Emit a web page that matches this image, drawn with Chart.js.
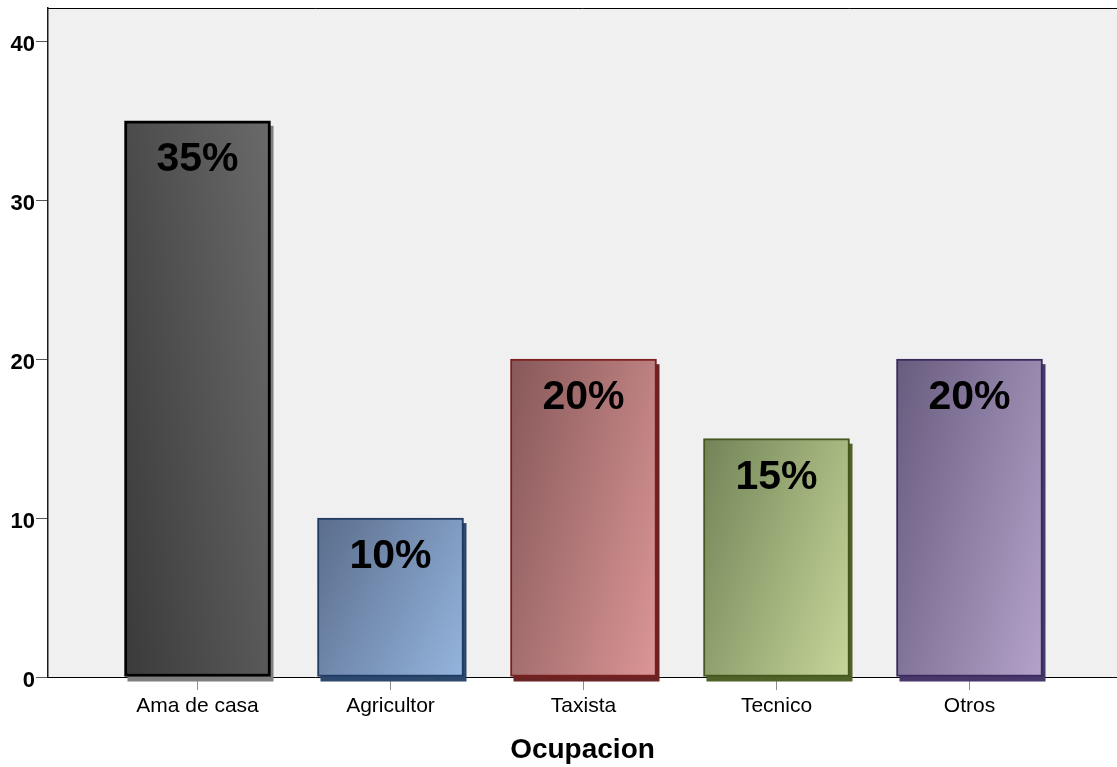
<!DOCTYPE html>
<html>
<head>
<meta charset="utf-8">
<title>Ocupacion</title>
<script src="https://cdn.jsdelivr.net/npm/chart.js@4.4.1/dist/chart.umd.min.js"></script>
<style>
  html, body { margin: 0; padding: 0; background: #ffffff; }
  canvas { display: block; }
</style>
</head>
<body>
<canvas id="chart" width="1117" height="767"></canvas>
<script>
// Occupation counts (each shown as a percentage label on its bar)
const categories = ['Ama de casa', 'Agricultor', 'Taxista', 'Tecnico', 'Otros'];
const values = [35, 10, 20, 15, 20];
const yTicks = [0, 10, 20, 30, 40];
const axisTitle = 'Ocupacion';

// Bar styling: gradient ends, outline and drop-shadow colour per bar
const darkShades   = ['#3a3a3a', '#5a6d8c', '#865859', '#728457', '#685c7e'];
const lightShades  = ['#6a6a6a', '#95b5de', '#dc9696', '#c6d69a', '#b4a2ca'];
const borderColors = ['#000000', '#1f3b63', '#7a1f1f', '#46561f', '#3a2a5c'];
const shadowColors = ['#7f7f7f', '#2d486d', '#6b2323', '#4f6228', '#47376b'];
const shadeUpward  = [true, false, false, false, false];

const FONT = '"Liberation Sans", Arial, Helvetica, sans-serif';
const BAR_W = 146;

// Mostly horizontal gradient with a small vertical component
function barGradient(context) {
  const chart = context.chart;
  const i = context.dataIndex;
  if (context.type !== 'data' || !chart.chartArea) return darkShades[i];
  const xs = chart.scales.x, ys = chart.scales.y;
  const cx = xs.getPixelForValue(i);
  const top = ys.getPixelForValue(values[i]);
  const bottom = ys.getPixelForValue(0);
  const w = BAR_W, h = Math.max(1, bottom - top);
  const r = (0.35 * w) / (0.65 * h);
  const a = w / (0.65 * (1 + r * r));
  const b = r * a;
  const left = cx - w / 2;
  const g = shadeUpward[i]
    ? chart.ctx.createLinearGradient(left, bottom, left + a, bottom - b)
    : chart.ctx.createLinearGradient(left, top, left + a, top + b);
  g.addColorStop(0, darkShades[i]);
  g.addColorStop(1, lightShades[i]);
  return g;
}

// White page, light grey plotting area
const plotBackground = {
  id: 'plotBackground',
  beforeDraw(chart) {
    const { ctx, chartArea: a } = chart;
    ctx.save();
    ctx.fillStyle = '#ffffff';
    ctx.fillRect(0, 0, chart.width, chart.height);
    ctx.fillStyle = '#f0f0f0';
    ctx.fillRect(a.left, a.top, a.right - a.left, a.bottom - a.top);
    ctx.restore();
  },
  afterDraw(chart) {
    const { ctx, chartArea: a } = chart;
    ctx.save();
    ctx.strokeStyle = '#000000';
    ctx.lineWidth = 1;
    ctx.beginPath();
    ctx.moveTo(a.left, a.top + 0.5);
    ctx.lineTo(a.right, a.top + 0.5);
    ctx.stroke();
    ctx.restore();
  }
};

// Offset drop shadow behind each bar
const barShadow = {
  id: 'barShadow',
  beforeDatasetsDraw(chart) {
    const ctx = chart.ctx;
    ctx.save();
    chart.getDatasetMeta(0).data.forEach((bar, i) => {
      const p = bar.getProps(['x', 'y', 'base', 'width'], true);
      ctx.fillStyle = shadowColors[i];
      ctx.fillRect(p.x - p.width / 2 + 3, p.y + 5, p.width, p.base - p.y);
    });
    ctx.restore();
  }
};

// Percentage label near the top of each bar
const barLabels = {
  id: 'barLabels',
  afterDatasetsDraw(chart) {
    const ctx = chart.ctx;
    ctx.save();
    ctx.font = 'bold 41px ' + FONT;
    ctx.fillStyle = '#000000';
    ctx.textAlign = 'center';
    ctx.textBaseline = 'alphabetic';
    chart.getDatasetMeta(0).data.forEach((bar, i) => {
      const p = bar.getProps(['x', 'y'], true);
      ctx.fillText(values[i] + '%', p.x, p.y + 50);
    });
    ctx.restore();
  }
};

new Chart(document.getElementById('chart'), {
  type: 'bar',
  data: {
    datasets: [{
      data: values.map((v, i) => ({ x: i, y: v })),
      backgroundColor: barGradient,
      borderColor: borderColors,
      borderWidth: [3, 2, 2, 2, 2],
      borderSkipped: false,
      barThickness: BAR_W
    }]
  },
  options: {
    responsive: false,
    animation: false,
    layout: { padding: { top: 8, left: 0, right: 0, bottom: 0 } },
    plugins: { legend: { display: false }, tooltip: { enabled: false } },
    scales: {
      x: {
        type: 'linear',
        min: -0.7746,
        max: 4.7643,
        offset: false,
        afterBuildTicks: s => { s.ticks = categories.map((c, i) => ({ value: i })); },
        afterFit: s => { s.height = 90; s.paddingLeft = 0; s.paddingRight = 0; },
        ticks: {
          callback: v => categories[v],
          font: { family: FONT, size: 21 },
          color: '#000000',
          padding: 4,
          maxRotation: 0,
          autoSkip: false
        },
        grid: { offset: false, drawOnChartArea: false, drawTicks: true, tickLength: 13, color: '#8c8c8c' },
        border: { display: true, color: '#000000', width: 1 },
        title: {
          display: true,
          text: axisTitle,
          font: { family: FONT, size: 28, weight: 'bold' },
          color: '#000000',
          padding: { top: 0, bottom: 0 }
        }
      },
      y: {
        min: 0,
        max: 42.1,
        afterBuildTicks: s => { s.ticks = yTicks.map(v => ({ value: v })); },
        afterFit: s => { s.width = 48; s.paddingTop = 0; s.paddingBottom = 0; },
        ticks: {
          font: { family: FONT, size: 22, weight: 'bold' },
          color: '#000000',
          padding: 1,
          labelOffset: 4
        },
        grid: { drawOnChartArea: false, drawTicks: true, tickLength: 12, color: '#555555' },
        border: { display: true, color: '#1a1a1a', width: 1.5 }
      }
    }
  },
  plugins: [plotBackground, barShadow, barLabels]
});
</script>
</body>
</html>
